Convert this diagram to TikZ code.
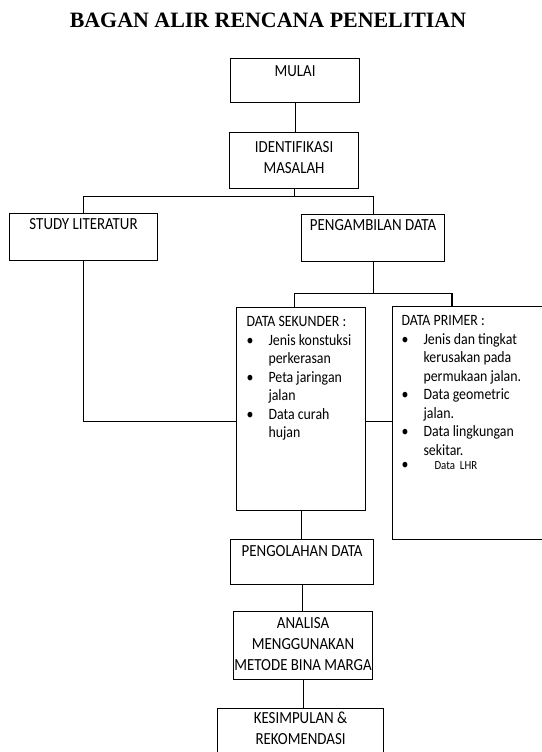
\documentclass[tikz,border=0pt]{standalone}
\usepackage{fontspec}
\setmainfont{Carlito}[FakeStretch=0.88]
\newfontfamily\judulfont{Liberation Serif}
\usepackage{tikz}
\usetikzlibrary{positioning}

\newcommand{\butir}{\makebox[22bp][l]{\textbullet}}
\newcommand{\lanjut}{\hspace*{22bp}}

\begin{document}
\begin{tikzpicture}[
				x = 1bp, y = -1bp,
				garis/.style = {line width = 1.1bp},
				kotak/.style = {draw, line width = 1.1bp, anchor = north west, inner sep = 0pt, align = flush center, font = \fontsize{17}{21.5}\selectfont},
				daftar/.style = {kotak, inner xsep = 10bp, align = flush left, font = \fontsize{15.8}{18.6}\selectfont}
				]
				\useasboundingbox (0,0) rectangle (542,752);
				\node [anchor = base, font = \judulfont\bfseries\fontsize{22}{26}\selectfont] (judul) at (268,27.5) {BAGAN ALIR RENCANA PENELITIAN};
				
				\node [kotak, text width = 129bp, text height = 17.5bp, text depth = 26.5bp] (mulai) at (230,58) {MULAI};
				\node [kotak, text width = 129bp, text height = 20bp, text depth = 36bp] (ident) at (229,132) {IDENTIFIKASI\\ MASALAH};
				\node [kotak, text width = 148bp, text height = 15.5bp, text depth = 31bp] (study) at (9,213) {STUDY LITERATUR};
				\node [kotak, text width = 143bp, text height = 15.5bp, text depth = 31.5bp] (ambil) at (301,214) {PENGAMBILAN DATA};
				
				\node [daftar, text width = 109bp, text height = 19bp, text depth = 184bp] (sek) at (236,307) {DATA SEKUNDER :\\ \butir Jenis konstuksi\\ \lanjut perkerasan\\ \butir Peta jaringan\\ \lanjut jalan\\ \butir Data curah\\ \lanjut hujan};
				\node [daftar, inner xsep = 9bp, text width = 142bp, text height = 19bp, text depth = 214bp] (prim) at (392,306) {DATA PRIMER :\\ \butir Jenis dan tingkat\\ \lanjut kerusakan pada\\ \lanjut permukaan jalan.\\ \butir Data geometric\\ \lanjut jalan.\\ \butir Data lingkungan\\ \lanjut sekitar.\\[-4.5bp] \butir\hspace{11bp}{\fontsize{12.4}{10}\selectfont Data\ \ LHR}};
				
				\node [kotak, text width = 143bp, text height = 16.5bp, text depth = 28.5bp] (olah) at (230,539) {PENGOLAHAN DATA};
				\node [kotak, text width = 139bp, text height = 16.5bp, text depth = 51.5bp] (anal) at (233,611) {ANALISA\\ MENGGUNAKAN\\ METODE BINA MARGA};
				\node [kotak, text width = 166bp, text height = 14.5bp, text depth = 41.5bp] (simpul) at (217,708) {KESIMPULAN \&\\ REKOMENDASI};
				
				\draw [garis] (mulai.south) -- (mulai.south |- ident.north);
				\draw [garis] (ident.south) -- ++(0,7) coordinate (bagi);
				\draw [garis] (bagi) -| (study.north);
				\draw [garis] (bagi) -| (ambil.north);
				\draw [garis] (ambil.south) -- ++(0,31) coordinate (cabang);
				\draw [garis] (cabang) -| ([xshift = -6.5bp]sek.north);
				\draw [garis] (cabang) -| ([xshift = 60bp]prim.north west);
				\coordinate (temu) at ([yshift = -12.5bp]sek.east);
				\draw [garis] (study.south) |- (sek.west |- temu);
				\draw [garis] (temu) -- (prim.west |- temu);
				\draw [garis] (sek.south) -- (sek.south |- olah.north);
				\draw [garis] (olah.south) -- (olah.south |- anal.north);
				\draw [garis] (anal.south) -- (anal.south |- simpul.north);
			\end{tikzpicture}
\end{document}
